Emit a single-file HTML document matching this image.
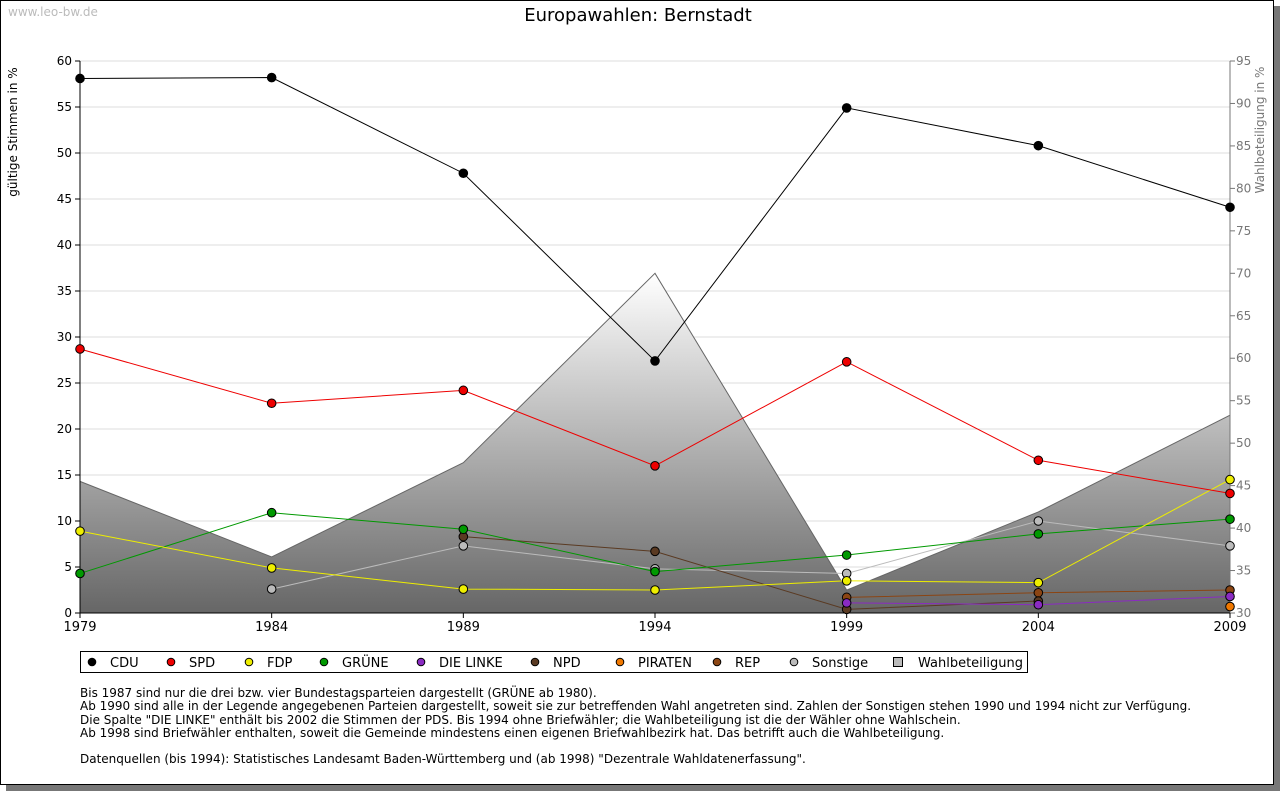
<!DOCTYPE html>
<html><head><meta charset="utf-8"><style>
body{margin:0;background:#fff;font-family:"Liberation Sans","DejaVu Sans",sans-serif;}
#frame{position:absolute;left:0;top:0;width:1272px;height:783px;border:1px solid #000;background:#fff;box-shadow:6px 6px 0 #777;}
.notes{position:absolute;left:80px;top:687px;font-size:12px;line-height:13.3px;color:#000;font-family:"DejaVu Sans","Liberation Sans",sans-serif;}
</style></head><body>
<div id="frame"></div>
<svg id="chart" width="1280" height="791" style="position:absolute;left:0;top:0" font-family="DejaVu Sans, Liberation Sans, sans-serif">
<defs><linearGradient id="wg" x1="0" y1="0" x2="0" y2="1"><stop offset="0" stop-color="#fff"/><stop offset="1" stop-color="#666"/></linearGradient></defs>
<text x="8" y="16" font-size="12" fill="#bbb">www.leo-bw.de</text>
<text x="638" y="21" font-size="18" text-anchor="middle">Europawahlen: Bernstadt</text>
<text transform="translate(17,132) rotate(-90)" font-size="12" text-anchor="middle">gültige Stimmen in %</text>
<text transform="translate(1264,130) rotate(-90)" font-size="12" fill="#777" text-anchor="middle">Wahlbeteiligung in %</text>
<g id="g"></g>
</svg>
<div class="notes">Bis 1987 sind nur die drei bzw. vier Bundestagsparteien dargestellt (GRÜNE ab 1980).<br>Ab 1990 sind alle in der Legende angegebenen Parteien dargestellt, soweit sie zur betreffenden Wahl angetreten sind. Zahlen der Sonstigen stehen 1990 und 1994 nicht zur Verfügung.<br>Die Spalte "DIE LINKE" enthält bis 2002 die Stimmen der PDS. Bis 1994 ohne Briefwähler; die Wahlbeteiligung ist die der Wähler ohne Wahlschein.<br>Ab 1998 sind Briefwähler enthalten, soweit die Gemeinde mindestens einen eigenen Briefwahlbezirk hat. Das betrifft auch die Wahlbeteiligung.<br><br>Datenquellen (bis 1994): Statistisches Landesamt Baden-Württemberg und (ab 1998) "Dezentrale Wahldatenerfassung".</div>
<script>
const years=[1979,1984,1989,1994,1999,2004,2009];
const leftTicks=[0,5,10,15,20,25,30,35,40,45,50,55,60];
const rightTicks=[30,35,40,45,50,55,60,65,70,75,80,85,90,95];
const turnout=[45.5,36.6,47.7,70.0,32.7,41.9,53.3];
const cdu=[58.1,58.2,47.8,27.4,54.9,50.8,44.1];
const spd=[28.7,22.8,24.2,16.0,27.3,16.6,13.0];
const fdp=[8.9,4.9,2.6,2.5,3.5,3.3,14.5];
const gruene=[4.3,10.9,9.1,4.5,6.3,8.6,10.2];
const linke=[null,null,null,null,1.1,0.9,1.8];
const npd=[null,null,8.3,6.7,0.4,1.3,null];
const piraten=[null,null,null,null,null,null,0.7];
const rep=[null,null,null,null,1.7,2.2,2.5];
const sonst=[null,2.6,7.3,4.8,4.3,10.0,7.3];
const series=[["CDU",cdu,"#000"],["SPD",spd,"#e00"],["FDP",fdp,"#ee0"],["GRÜNE",gruene,"#090"],["DIE LINKE",linke,"#8a2bc2"],["NPD",npd,"#5a3a22"],["PIRATEN",piraten,"#f07800"],["REP",rep,"#8b4513"],["Sonstige",sonst,"#bbb"]];
const X0=80,X1=1230,YT=61,YB=613;
const x=i=>X0+(X1-X0)*i/(years.length-1);
const yL=v=>YB-(YB-YT)*v/60;
const yR=v=>YB-(YB-YT)*(v-30)/65;
const NS="http://www.w3.org/2000/svg";
const g=document.getElementById('g');
function mk(t,a,p){const e=document.createElementNS(NS,t);for(const k in a)e.setAttribute(k,a[k]);(p||g).appendChild(e);return e;}
leftTicks.forEach(v=>{if(v>0){const l=mk('line',{x1:X0,x2:X1,y1:yL(v),y2:yL(v),stroke:'#ddd'});}
const t=mk('text',{x:72,y:yL(v)+4,'font-size':12,'text-anchor':'end'});t.textContent=v;
mk('line',{x1:X0-5,x2:X0,y1:yL(v),y2:yL(v),stroke:'#000'});});
rightTicks.forEach(v=>{const t=mk('text',{x:1236,y:yR(v)+4,'font-size':12,fill:'#777'});t.textContent=v;
mk('line',{x1:X1,x2:X1+5,y1:yR(v),y2:yR(v),stroke:'#777'});});
let d=`M${x(0)},${YB}`;turnout.forEach((v,i)=>d+=`L${x(i)},${yR(v)}`);d+=`L${x(6)},${YB}Z`;
const ar=mk('path',{d:d,fill:'url(#wg)',stroke:'#666','stroke-width':1});

mk('line',{x1:X0,x2:X0,y1:YT,y2:YB,stroke:'#000'});
mk('line',{x1:X1,x2:X1,y1:YT,y2:YB,stroke:'#777'});
mk('line',{x1:X0,x2:X1,y1:YB,y2:YB,stroke:'#000'});
years.forEach((yr,i)=>{mk('line',{x1:x(i),x2:x(i),y1:YB,y2:YB+5,stroke:'#000'});
const t=mk('text',{x:x(i),y:YB+18,'font-size':13,'text-anchor':'middle'});t.textContent=yr;});
series.slice().reverse().forEach(([n,vals,c])=>{
 let pd='',started=false;
 vals.forEach((v,i)=>{if(v==null){started=false;return;}pd+=(started?'L':'M')+x(i)+','+yL(v);started=true;});
 const p=mk('path',{d:pd,fill:'none',stroke:c,'stroke-width':1});
 
 
 vals.forEach((v,i)=>{if(v==null)return;
  const m=mk('circle',{cx:x(i),cy:yL(v),r:4.3,fill:c,stroke:'#000','stroke-width':1});
  
  });
});
const lg=mk('g',{});

mk('rect',{x:80.5,y:651.5,width:947,height:21,fill:'#fff',stroke:'#000'},lg);
const lx=[92,171,249,324,421,535,620,717,794,897];
series.forEach(([n,v,c],i)=>{const cx=lx[i],cy=662;
 const e=mk('g',{},lg);
 mk('circle',{cx:cx,cy:cy,r:3.8,fill:c,stroke:'#000'},e);
 const t=mk('text',{x:cx+18,y:cy+5,'font-size':13},e);t.textContent=n;});
const e=mk('g',{},lg);
mk('rect',{x:893.5,y:657.5,width:9,height:9,fill:'#bbb',stroke:'#000'},e);
const t=mk('text',{x:918,y:667,'font-size':13},e);t.textContent='Wahlbeteiligung';
</script>
</body></html>
